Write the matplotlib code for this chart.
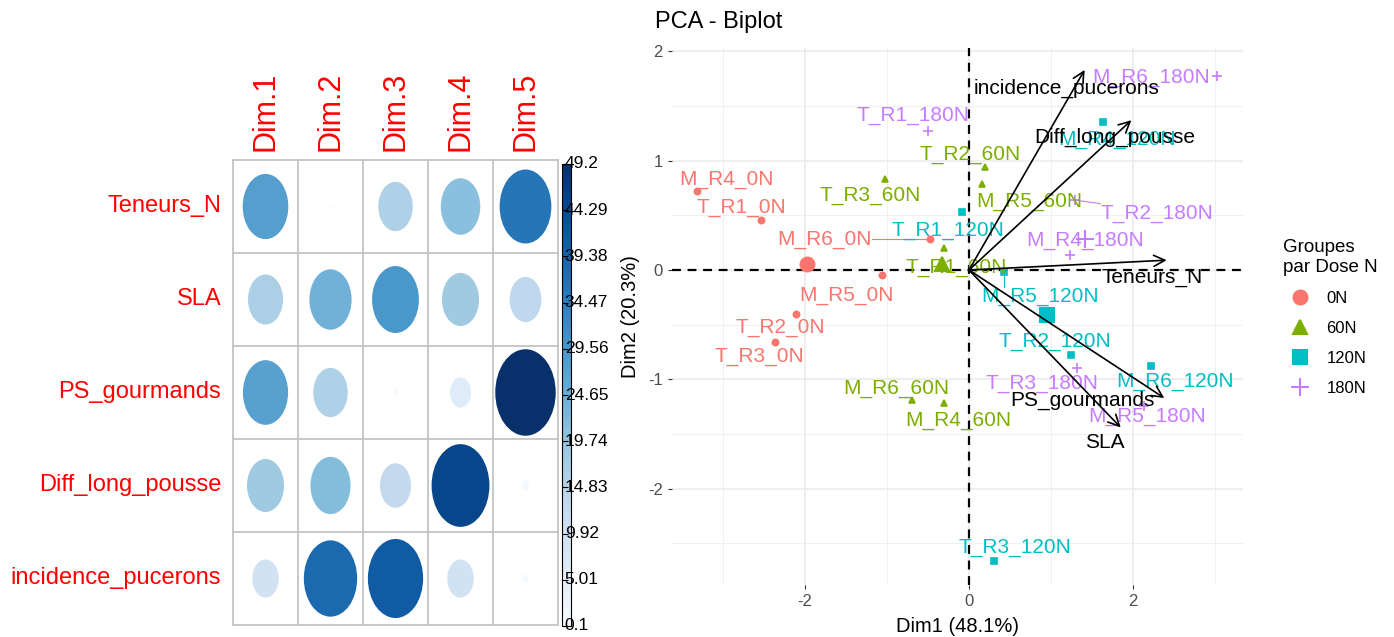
import numpy as np
import matplotlib
matplotlib.use("Agg")
import matplotlib.pyplot as plt
from matplotlib.patches import Ellipse
from matplotlib.lines import Line2D
from matplotlib.colors import Normalize
from matplotlib.colorbar import ColorbarBase
from matplotlib import font_manager

# ── Data: variable contributions (%) per dimension ──────────────────────────
VARIABLES = ["Teneurs_N", "SLA", "PS_gourmands", "Diff_long_pousse", "incidence_pucerons"]
DIMS = ["Dim.1", "Dim.2", "Dim.3", "Dim.4", "Dim.5"]
CONTRIB = [
    [28.0, 0.1, 16.0, 21.0, 36.0],
    [16.5, 24.0, 29.5, 18.5, 13.5],
    [27.5, 16.0, 0.4, 6.0, 49.2],
    [18.5, 21.6, 13.0, 45.0, 0.8],
    [9.5, 38.3, 41.1, 9.5, 0.5],
]

# ── Data: individuals on Dim1 / Dim2 ─────────────────────────────────────────
GROUPS = ["0N", "60N", "120N", "180N"]
IND_NAMES = ["M_R4_0N", "T_R1_0N", "M_R6_0N", "M_R5_0N", "T_R2_0N", "T_R3_0N",
             "T_R3_60N", "T_R2_60N", "M_R5_60N", "T_R1_60N", "M_R6_60N", "M_R4_60N",
             "T_R1_120N", "M_R4_120N", "M_R5_120N", "T_R2_120N", "M_R6_120N", "T_R3_120N",
             "T_R1_180N", "M_R6_180N", "T_R2_180N", "M_R4_180N", "T_R3_180N", "M_R5_180N"]
IND_GROUP = ["0N"] * 6 + ["60N"] * 6 + ["120N"] * 6 + ["180N"] * 6
IND_DIM1 = [-3.31, -2.54, -0.47, -1.06, -2.11, -2.37,
            -1.02, 0.20, 0.155, -0.31, -0.70, -0.31,
            -0.09, 1.63, 0.43, 1.24, 2.22, 0.30,
            -0.50, 3.02, 1.29, 1.23, 1.32, 2.13]
IND_DIM2 = [0.72, 0.46, 0.28, -0.05, -0.40, -0.66,
            0.83, 0.94, 0.79, 0.20, -1.19, -1.22,
            0.53, 1.35, -0.02, -0.78, -0.88, -2.66,
            1.27, 1.77, 0.64, 0.14, -0.90, -1.24]

# variable arrows (same order as VARIABLES)
VAR_DIM1 = [2.41, 1.85, 2.38, 1.98, 1.41]
VAR_DIM2 = [0.09, -1.44, -1.17, 1.37, 1.83]

# ── Layout: repelled label positions (data coords) ──────────────────────────
LABEL_POS = {
    "M_R4_0N": (-2.95, 0.83), "T_R1_0N": (-2.77, 0.575), "M_R6_0N": (-1.76, 0.28),
    "M_R5_0N": (-1.49, -0.23), "T_R2_0N": (-2.30, -0.53), "T_R3_0N": (-2.55, -0.79),
    "T_R3_60N": (-1.21, 0.68), "T_R2_60N": (0.01, 1.06), "M_R5_60N": (0.73, 0.63),
    "T_R1_60N": (-0.15, 0.02), "M_R6_60N": (-0.89, -1.08), "M_R4_60N": (-0.13, -1.38),
    "T_R1_120N": (-0.26, 0.365), "M_R4_120N": (1.80, 1.19), "M_R5_120N": (0.87, -0.24),
    "T_R2_120N": (1.05, -0.65), "M_R6_120N": (2.51, -1.02), "T_R3_120N": (0.56, -2.54),
    "T_R1_180N": (-0.68, 1.415), "M_R6_180N": (2.22, 1.76), "T_R2_180N": (2.29, 0.52),
    "M_R4_180N": (1.41, 0.27), "T_R3_180N": (0.89, -1.04), "M_R5_180N": (2.17, -1.34),
    "Teneurs_N": (2.23, -0.065), "SLA": (1.66, -1.58), "PS_gourmands": (1.38, -1.19),
    "Diff_long_pousse": (1.78, 1.215), "incidence_pucerons": (1.195, 1.66),
}
LEADERS = ["M_R6_0N", "M_R5_120N", "T_R2_180N"]

COLORS = {"0N": "#F8766D", "60N": "#7CAE00", "120N": "#00BFC4", "180N": "#C77CFF"}
MARKERS = {"0N": "o", "60N": "^", "120N": "s", "180N": "+"}

W, H = 1394, 637


def has_font(name):
    try:
        font_manager.findfont(font_manager.FontProperties(family=name),
                              fallback_to_default=False)
        return True
    except ValueError:
        return False


NARROW = has_font("Liberation Sans Narrow")
NARROW_FAM = ["Liberation Sans Narrow", "Liberation Sans", "DejaVu Sans"]
SANS = ["Liberation Sans", "DejaVu Sans"]
plt.rcParams["font.family"] = SANS
plt.rcParams["axes.unicode_minus"] = False


def px_axes(x0, y0, x1, y1):
    """Axes from pixel box (top-left origin)."""
    return fig.add_axes([x0 / W, 1 - y1 / H, (x1 - x0) / W, (y1 - y0) / H])


fig = plt.figure(figsize=(W / 100, H / 100), dpi=100)

# ── Left: contribution corrplot ─────────────────────────────────────────────
contrib = np.array(CONTRIB)
vmin, vmax = contrib.min(), contrib.max()
cmap = plt.get_cmap("Blues")
norm = Normalize(vmin, vmax)

axc = px_axes(233, 160, 558, 625)
axc.set_xlim(0.5, len(DIMS) + 0.5)
axc.set_ylim(len(VARIABLES) + 0.5, 0.5)
axc.axis("off")
for i in range(len(VARIABLES)):
    for j in range(len(DIMS)):
        v = contrib[i, j]
        d = 0.93 * np.sqrt(v / vmax)
        axc.add_patch(Ellipse((j + 1, i + 1), d, d, color=cmap(norm(v)), lw=0))
for k in np.arange(0.5, len(DIMS) + 1):
    axc.plot([k, k], [0.5, len(VARIABLES) + 0.5], color="#C4C4C4", lw=1.3, clip_on=False)
    axc.plot([0.5, len(DIMS) + 0.5], [k, k], color="#C4C4C4", lw=1.3, clip_on=False)

row_size = 21 if NARROW else 17
for i, name in enumerate(VARIABLES):
    axc.text(0.32, i + 1, name, ha="right", va="center", color="red",
             fontsize=row_size, family=NARROW_FAM)
for j, name in enumerate(DIMS):
    axc.text(j + 1, 0.4, name, ha="center", va="bottom", rotation=90,
             color="red", fontsize=22, family=SANS)

cax = px_axes(562, 164, 571, 626)
cb = ColorbarBase(cax, cmap=cmap, norm=norm, orientation="vertical")
cb.outline.set_linewidth(0.8)
ticks = np.round(np.linspace(vmin, vmax, 11), 2)
cb.set_ticks(ticks)
cax.tick_params(left=True, right=False, labelleft=False, labelright=False,
                direction="in", length=4, width=0.8)
for t in ticks:
    cax.text(0.3, norm(t), f"{t:g}", transform=cax.transAxes, ha="left", va="center",
             fontsize=14 if NARROW else 12.5, family=NARROW_FAM, color="black")

# ── Right: PCA biplot ───────────────────────────────────────────────────────
ax = px_axes(672, 48, 1243, 585)
ax.set_xlim(-3.62, 3.34)
ax.set_ylim(-2.88, 2.03)
ax.set_xticks([-2, 0, 2])
ax.set_xticks([-3, -1, 1, 3], minor=True)
ax.set_yticks([-2, -1, 0, 1, 2])
ax.set_yticks([-2.5, -1.5, -0.5, 0.5, 1.5], minor=True)
ax.grid(which="major", color="#EBEBEB", lw=1.2, zorder=0)
ax.grid(which="minor", color="#F0F0F0", lw=0.7, zorder=0)
ax.set_axisbelow(True)
for s in ax.spines.values():
    s.set_visible(False)
ax.tick_params(which="major", length=3, color="#333333", labelcolor="#4D4D4D",
               labelsize=12)
ax.tick_params(which="minor", length=0)
ax.axhline(0, color="black", lw=1.6, ls=(0, (4, 3)), zorder=2)
ax.axvline(0, color="black", lw=1.6, ls=(0, (4, 3)), zorder=2)

x = np.array(IND_DIM1)
y = np.array(IND_DIM2)
grp = np.array(IND_GROUP)
for g in GROUPS:
    m = grp == g
    ms = 7 if MARKERS[g] == "+" else 4.5
    ax.plot(x[m], y[m], ls="none", marker=MARKERS[g], color=COLORS[g], ms=ms,
            mew=1.2, zorder=3)
    cms = 13 if MARKERS[g] == "+" else 10
    ax.plot(x[m].mean(), y[m].mean(), ls="none", marker=MARKERS[g], color=COLORS[g],
            ms=cms, mew=1.5, zorder=3)

ind_text = {}
for name, g in zip(IND_NAMES, IND_GROUP):
    lx, ly = LABEL_POS[name]
    ind_text[name] = ax.text(lx, ly, name, color=COLORS[g], fontsize=15,
                             ha="center", va="center", zorder=4)

for vx, vy, name in zip(VAR_DIM1, VAR_DIM2, VARIABLES):
    ax.annotate("", xy=(vx, vy), xytext=(0, 0), zorder=5,
                arrowprops=dict(arrowstyle="->", color="black", lw=1.2,
                                mutation_scale=20, shrinkA=0, shrinkB=0))
    lx, ly = LABEL_POS[name]
    ax.text(lx, ly, name, color="black", fontsize=15, ha="center", va="center", zorder=6)

ax.set_xlabel("Dim1 (48.1%)", fontsize=14.5, labelpad=6)
ax.set_ylabel("Dim2 (20.3%)", fontsize=14.5, labelpad=6)
fig.text(655 / W, 1 - 22 / H, "PCA - Biplot", fontsize=17, ha="left", va="center")

# leader segments from point to nearest edge of its label
fig.canvas.draw()
renderer = fig.canvas.get_renderer()
for name in LEADERS:
    k = IND_NAMES.index(name)
    p = ax.transData.transform((IND_DIM1[k], IND_DIM2[k]))
    bb = ind_text[name].get_window_extent(renderer)
    q = (np.clip(p[0], bb.x0, bb.x1), np.clip(p[1], bb.y0, bb.y1))
    pd, qd = ax.transData.inverted().transform([p, q])
    ax.plot([pd[0], qd[0]], [pd[1], qd[1]], color=COLORS[IND_GROUP[k]], lw=0.8,
            zorder=3)

handles = [Line2D([], [], ls="none", marker=MARKERS[g], color=COLORS[g],
                  ms=13 if MARKERS[g] == "+" else 10, mew=1.5) for g in GROUPS]
leg = fig.legend(handles, GROUPS, title="Groupes\npar Dose N", loc="upper left",
                 bbox_to_anchor=(1268 / W, 1 - 224 / H), frameon=False,
                 fontsize=12, title_fontsize=13.5, labelspacing=0.9,
                 handletextpad=0.6, alignment="left")

fig.savefig("out.png", dpi=100)
